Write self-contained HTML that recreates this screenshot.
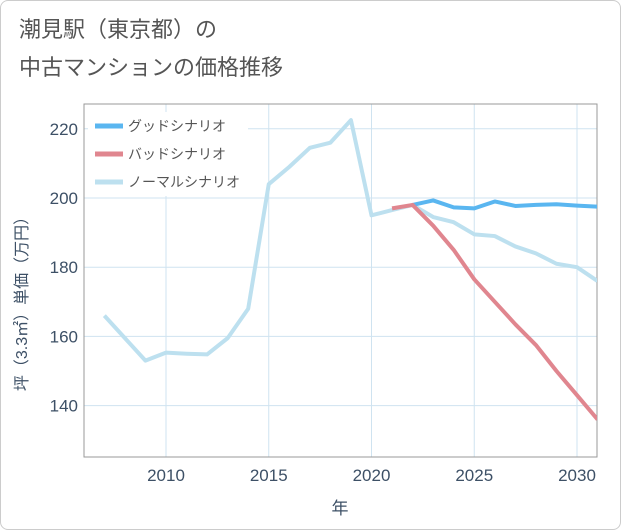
<!DOCTYPE html>
<html><head><meta charset="utf-8"><style>
html,body{margin:0;padding:0;background:#fff}
#wrap{position:relative;width:619px;height:528px;border:1px solid #ccc;border-radius:8px;overflow:hidden;font-family:"Liberation Sans","Noto Sans CJK JP",sans-serif}
.title{position:absolute;left:18px;color:#555;font-size:22px;line-height:30px}
</style></head><body>
<div id="wrap">
<div class="title" style="top:14px">潮見駅（東京都）の</div>
<div class="title" style="top:52px">中古マンションの価格推移</div>
<svg id="chart" width="621" height="530" style="position:absolute;left:-1px;top:-1px"></svg>
</div>
<script>
const years=[2007,2008,2009,2010,2011,2012,2013,2014,2015,2016,2017,2018,2019,2020,2021,2022,2023,2024,2025,2026,2027,2028,2029,2030,2031];
const normalVals=[166,159.5,153,155.3,155,154.8,159.5,168,204,209,214.5,216,222.5,195,196.5,198,194.5,193,189.5,189,186,184,181,180,176];
const goodYears=[2022,2023,2024,2025,2026,2027,2028,2029,2030,2031];
const goodVals=[198,199.3,197.3,197,199,197.7,198,198.2,197.8,197.5];
const badYears=[2021,2022,2023,2024,2025,2026,2027,2028,2029,2030,2031];
const badVals=[197,198,192,185,176.5,170,163.5,157.5,150,143,136];
const xTicks=[2010,2015,2020,2025,2030];
const yTicks=[140,160,180,200,220];
const NS='http://www.w3.org/2000/svg';
const svg=document.getElementById('chart');
const L=84,R=597,T=104,B=457;
const x=v=>166+(v-2010)*20.55;
const y=v=>198-(v-200)*3.46;
function mk(t,a){const e=document.createElementNS(NS,t);for(const k in a)e.setAttribute(k,a[k]);svg.appendChild(e);return e;}
const clip=mk('clipPath',{id:'pc'});
const cr=document.createElementNS(NS,'rect');cr.setAttribute('x',L);cr.setAttribute('y',T);cr.setAttribute('width',R-L);cr.setAttribute('height',B-T);clip.appendChild(cr);
xTicks.forEach(t=>{
 const g=mk('line',{x1:x(t),x2:x(t),y1:T,y2:B,stroke:'#cfe3f0','stroke-width':1});
 
 
 const tx=mk('text',{x:x(t),y:481,'text-anchor':'middle','font-size':17,fill:'#3d5066'});
 tx.textContent=t;
 
 
});
yTicks.forEach(t=>{
 const g=mk('line',{x1:L,x2:R,y1:y(t),y2:y(t),stroke:'#cfe3f0','stroke-width':1});
 
 
 const tx=mk('text',{x:78,y:y(t)+6,'text-anchor':'end','font-size':17,fill:'#3d5066'});
 tx.textContent=t;
 
 
});
const frame=mk('rect',{x:L,y:T,width:R-L,height:B-T,fill:'none',stroke:'#999','stroke-width':1});


function line(xs,vs,color,name){
 const p=mk('polyline',{points:xs.map((v,i)=>x(v)+','+y(vs[i])).join(' '),fill:'none',stroke:color,'stroke-width':4,'stroke-linejoin':'round','clip-path':'url(#pc)'});
 
 
}
line(years,normalVals,'#bde0ef','normal-scenario-line');
line(goodYears,goodVals,'#5ab6f0','good-scenario-line');
line(badYears,badVals,'#e0868f','bad-scenario-line');
const lbg=mk('rect',{x:88,y:112,width:160,height:84,fill:'#fff'});


[['グッドシナリオ','#5ab6f0'],['バッドシナリオ','#e0868f'],['ノーマルシナリオ','#bde0ef']].forEach((d,i)=>{
 const yy=126+i*28;
 const s=mk('line',{x1:95,x2:123,y1:yy,y2:yy,stroke:d[1],'stroke-width':5});
 
 
 const t=mk('text',{x:128,y:yy+5,'font-size':14,fill:'#555'});
 t.textContent=d[0];
 
 
});
const xt=mk('text',{x:340,y:514,'text-anchor':'middle','font-size':17,fill:'#3d5066'});
xt.textContent='年';


const yt=mk('text',{x:0,y:0,'text-anchor':'middle','font-size':16,fill:'#3d5066',transform:'translate(27,300) rotate(-90)'});
yt.textContent='坪（3.3㎡）単価（万円）';


</script>
</body></html>
